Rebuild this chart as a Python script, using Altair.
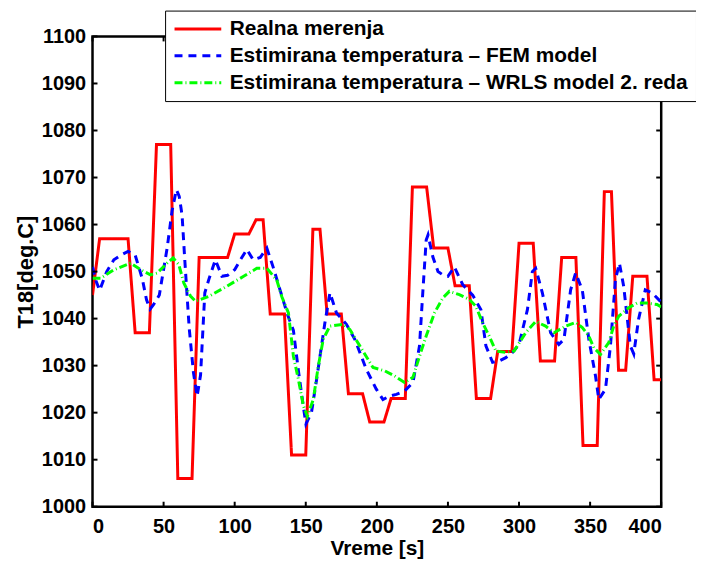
import altair as alt
import pandas as pd

# Real measurements (red)
red_t = [0, 5, 25, 30, 40, 45, 55, 60, 70, 75, 95, 100, 110, 115, 120, 125, 135, 140, 150,
         155, 160, 165, 175, 180, 190, 195, 205, 210, 220, 225, 235, 240, 250, 255, 265,
         270, 280, 285, 295, 300, 310, 315, 325, 330, 340, 345, 355, 360, 365, 370, 375,
         380, 390, 395, 400]
red_v = [1045, 1057, 1057, 1037, 1037, 1077, 1077, 1006, 1006, 1053, 1053, 1058, 1058, 1061,
         1061, 1041, 1041, 1011, 1011, 1059, 1059, 1041, 1041, 1024, 1024, 1018, 1018, 1023,
         1023, 1068, 1068, 1055, 1055, 1047, 1047, 1023, 1023, 1033, 1033, 1056, 1056, 1031,
         1031, 1053, 1053, 1013, 1013, 1067, 1067, 1029, 1029, 1049, 1049, 1027, 1027]

# FEM model estimate (blue dashed)
fem_t = [0, 2.5, 5, 10, 15, 20, 25, 30, 35, 38, 40.5, 43, 47, 52.5, 56, 59, 61, 63, 65, 68,
         71, 73.6, 76, 79, 82, 86.4, 91, 95, 100, 104, 108.6, 113, 118, 122.6, 127, 132, 137,
         141.3, 144.8, 148.3, 150.1, 154, 157.6, 163.4, 167, 171.6, 178.6, 184.5, 192.6,
         199.6, 204.3, 209, 213.7, 219.5, 225.4, 230, 232.4, 234.7, 236, 239.4, 243, 246.4,
         250, 254.5, 260.4, 267.4, 273.2, 276.7, 281.4, 286, 290.7, 295.4, 300, 305.9, 309.4,
         311.7, 316.4, 322.2, 328, 331.6, 336.3, 339.8, 344.5, 349.1, 353.8, 356.1, 360.8,
         364.3, 367.8, 370.6, 373.6, 378.3, 380.7, 384.1, 388.8, 393.5, 400]
fem_v = [1051, 1048, 1046, 1050, 1052.5, 1053.5, 1054.3, 1053.5, 1048.5, 1044, 1042, 1043,
         1045, 1055, 1063, 1067.4, 1066, 1062, 1052, 1038, 1028.5, 1023.5, 1028, 1045.5,
         1048.5, 1052.5, 1049, 1049.2, 1050.4, 1052.5, 1054.7, 1052.5, 1053, 1055, 1051, 1046,
         1041, 1037.5, 1029, 1021.3, 1017.6, 1020, 1027, 1039, 1045.5, 1041.2, 1038.8, 1035.6,
         1029.2, 1025, 1022.8, 1023.5, 1023.9, 1024.6, 1026.4, 1034.2, 1046, 1056.7, 1057.8,
         1053.1, 1050, 1049.3, 1049, 1051, 1047.2, 1045, 1041.9, 1034.2, 1030.7, 1031, 1031.7,
         1032.8, 1034.5, 1041.9, 1050, 1050.7, 1045.5, 1037, 1034.5, 1035.6, 1046.1, 1049.7,
         1046.1, 1035.6, 1027.8, 1022.8, 1025, 1034.2, 1048.3, 1051.8, 1046.9, 1034.2, 1032.5,
         1039.9, 1046.1, 1045.5, 1043.5]

# WRLS 2nd order model estimate (green dash-dot)
wrls_t = [0, 5.8, 15.2, 26.8, 33.8, 40.8, 45.5, 52.5, 56.7, 60.7, 64.2, 68.9, 72.4, 81.7,
          94.6, 106.3, 115.6, 122.6, 129.6, 133.1, 137.8, 141.3, 144.8, 148.3, 151.1, 155.3,
          158.8, 162.3, 166.9, 176.3, 181, 188, 197.3, 205.5, 212.5, 219.5, 225.4, 230, 234.7,
          240.5, 246.4, 251, 258, 265, 269.7, 274.4, 279, 283.7, 290.7, 296.5, 304.7, 311.7,
          318.7, 324.6, 332.8, 339.8, 344.5, 349.1, 352.6, 357.3, 363.1, 366.6, 370.1, 377.1,
          383, 390, 397, 400]
wrls_v = [1048.6, 1048.6, 1050.4, 1051.8, 1050.4, 1049.3, 1049.7, 1051.8, 1052.9, 1051.5,
          1047.6, 1044.8, 1043.7, 1044.7, 1046.9, 1049, 1050.7, 1050.7, 1048.2, 1044.7, 1041.2,
          1032, 1027.1, 1021.5, 1019.2, 1022.8, 1029.9, 1035.6, 1038.4, 1038.8, 1037.7, 1034.2,
          1029.6, 1028.9, 1027.8, 1026.4, 1027.5, 1032, 1036.3, 1041.2, 1044.4, 1045.8, 1045.1,
          1044.1, 1042.6, 1039.1, 1036.3, 1033.1, 1032.8, 1033.1, 1037, 1039.4, 1038.4, 1037,
          1038.4, 1039.2, 1038.1, 1036.3, 1033.8, 1032.4, 1034.9, 1038.4, 1040.5, 1042.3,
          1043.3, 1043.3, 1043, 1042.5]

series_names = ["Realna merenja",
                "Estimirana temperatura \u2013 FEM model",
                "Estimirana temperatura \u2013 WRLS model 2. reda"]
series_colors = ["#ff0000", "#0000ff", "#00ff00"]
series_dash = [[1, 0], [8, 6], [8, 3, 1, 3]]

x_ticks = [0, 50, 100, 150, 200, 250, 300, 350, 400]
y_ticks = [1000, 1010, 1020, 1030, 1040, 1050, 1060, 1070, 1080, 1090, 1100]

rows = []
for i, (ts, vs) in enumerate([(red_t, red_v), (fem_t, fem_v), (wrls_t, wrls_v)]):
    for j, (t, v) in enumerate(zip(ts, vs)):
        rows.append({"t": t, "v": v, "series": series_names[i], "order": j})
df = pd.DataFrame(rows)

W, H = 572, 473
FONT = "Liberation Sans"

xscale = alt.Scale(domain=[0, 400], nice=False, zero=False)
yscale = alt.Scale(domain=[1000, 1100], nice=False, zero=False)

lines = alt.Chart(df).mark_line(strokeWidth=3, clip=True).encode(
    x=alt.X("t:Q", scale=xscale,
            axis=alt.Axis(values=x_ticks, title="Vreme [s]", ticks=False, domain=False,
                          labelPadding=10, titlePadding=1, grid=False, format="d",
                          titleFontSize=21)),
    y=alt.Y("v:Q", scale=yscale,
            axis=alt.Axis(values=y_ticks, title="T18[deg.C]", ticks=False, domain=False,
                          labelPadding=7, titlePadding=4, grid=False, format="d",
                          titleFontSize=22)),
    color=alt.Color("series:N",
                    scale=alt.Scale(domain=series_names, range=series_colors),
                    legend=alt.Legend(title=None, orient="none", legendX=73, legendY=-26,
                                      fillColor="white", strokeColor="black",
                                      padding=8, symbolType="M-23.5,0H23.5", symbolSize=4,
                                      symbolStrokeWidth=3, symbolOffset=14.5,
                                      rowPadding=5,
                                      labelFontSize=21, labelFont=FONT,
                                      labelFontWeight="bold", labelColor="black",
                                      labelOffset=21.5, labelLimit=0)),
    strokeDash=alt.StrokeDash("series:N",
                              scale=alt.Scale(domain=series_names, range=series_dash),
                              legend=None),
    order="order:Q",
)

xt = pd.DataFrame({"t": x_ticks})
yt = pd.DataFrame({"v": y_ticks})

xtick_bot = alt.Chart(xt).mark_rule(color="black", strokeWidth=2).encode(
    x=alt.X("t:Q", scale=xscale), y=alt.value(H), y2=alt.value(H - 5))
xtick_top = alt.Chart(xt).mark_rule(color="black", strokeWidth=2).encode(
    x=alt.X("t:Q", scale=xscale), y=alt.value(0), y2=alt.value(5))
ytick_l = alt.Chart(yt).mark_rule(color="black", strokeWidth=2).encode(
    y=alt.Y("v:Q", scale=yscale), x=alt.value(0), x2=alt.value(5))
ytick_r = alt.Chart(yt).mark_rule(color="black", strokeWidth=2).encode(
    y=alt.Y("v:Q", scale=yscale), x=alt.value(W), x2=alt.value(W - 5))

chart = alt.layer(lines, xtick_bot, xtick_top, ytick_l, ytick_r).properties(
    width=W, height=H,
    autosize=alt.AutoSizeParams(type="none"),
    padding={"left": 85, "top": 27, "right": 35, "bottom": 54},
).configure_view(stroke="black", strokeWidth=2.5).configure_axis(
    labelFont=FONT, labelFontSize=20, labelFontWeight="bold", labelColor="black",
    titleFont=FONT, titleFontWeight="bold", titleColor="black",
)

chart.save("out.html", embed_options={"renderer": "svg", "actions": False})
